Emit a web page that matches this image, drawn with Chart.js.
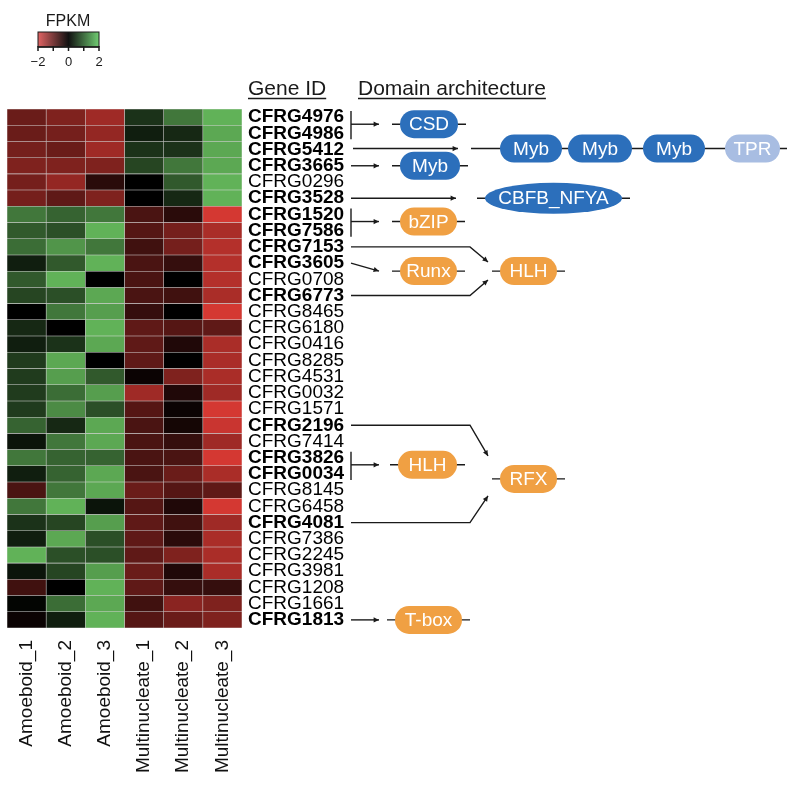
<!DOCTYPE html>
<html>
<head>
<meta charset="utf-8">
<script src="https://cdn.jsdelivr.net/npm/chart.js@4.4.0/dist/chart.umd.min.js"></script>
<style>
  html, body { margin: 0; padding: 0; background: #fff; }
</style>
</head>
<body>
<canvas id="heatmap" width="800" height="790"></canvas>
<script>
const genes = ['CFRG4976', 'CFRG4986', 'CFRG5412', 'CFRG3665', 'CFRG0296', 'CFRG3528', 'CFRG1520', 'CFRG7586',
  'CFRG7153', 'CFRG3605', 'CFRG0708', 'CFRG6773', 'CFRG8465', 'CFRG6180', 'CFRG0416', 'CFRG8285',
  'CFRG4531', 'CFRG0032', 'CFRG1571', 'CFRG2196', 'CFRG7414', 'CFRG3826', 'CFRG0034', 'CFRG8145',
  'CFRG6458', 'CFRG4081', 'CFRG7386', 'CFRG2245', 'CFRG3981', 'CFRG1208', 'CFRG1661', 'CFRG1813'];
const boldGenes = ['CFRG4976', 'CFRG4986', 'CFRG5412', 'CFRG3665', 'CFRG3528', 'CFRG1520', 'CFRG7586', 'CFRG7153',
  'CFRG3605', 'CFRG6773', 'CFRG2196', 'CFRG3826', 'CFRG0034', 'CFRG4081', 'CFRG1813'];
const samples = ['Amoeboid_1', 'Amoeboid_2', 'Amoeboid_3', 'Multinucleate_1', 'Multinucleate_2', 'Multinucleate_3'];

// z-scored FPKM, one array per sample, same order as genes
const amoeboid1 = [-1.0, -1.0, -1.1, -1.2, -1.1, -1.1, 1.2, 0.9, 1.1, 0.3, 0.9, 0.7, 0.0, 0.4, 0.3, 0.6,
  0.6, 0.6, 0.6, 1.0, 0.2, 1.2, 0.3, -0.7, 1.2, 0.5, 0.3, 1.8, 0.2, -0.6, 0.05, -0.1];
const amoeboid2 = [-1.2, -1.1, -1.0, -1.2, -1.4, -0.9, 1.0, 0.8, 1.5, 0.9, 1.8, 0.8, 1.2, 0.0, 0.5, 1.7,
  1.6, 1.1, 1.4, 0.4, 1.2, 1.0, 1.0, 1.2, 1.8, 0.7, 1.7, 0.8, 0.7, 0.0, 1.1, 0.3];
const amoeboid3 = [-1.5, -1.4, -1.5, -1.2, -0.4, -1.2, 1.2, 1.8, 1.2, 1.8, 0.0, 1.7, 1.6, 1.8, 1.7, 0.0,
  0.9, 1.6, 0.8, 1.7, 1.7, 1.0, 1.7, 1.7, 0.2, 1.6, 0.8, 0.8, 1.6, 1.8, 1.7, 1.8];
const multinucleate1 = [0.5, 0.3, 0.5, 0.7, 0.0, 0.0, -0.7, -0.8, -0.6, -0.7, -0.7, -0.7, -0.5, -0.9, -0.9, -0.9,
  -0.1, -1.5, -0.8, -0.7, -0.7, -0.7, -0.7, -1.0, -0.8, -0.9, -0.9, -0.9, -1.0, -0.9, -0.6, -0.8];
const multinucleate2 = [1.2, 0.4, 0.5, 1.2, 0.9, 0.4, -0.4, -1.1, -1.1, -0.5, 0.0, -0.6, 0.0, -0.8, -0.3, 0.0,
  -1.2, -0.3, -0.1, -0.2, -0.5, -0.7, -1.0, -0.8, -0.3, -0.6, -0.4, -1.2, -0.3, -0.5, -1.3, -1.0];
const multinucleate3 = [1.8, 1.7, 1.7, 1.7, 1.8, 1.8, -2.0, -1.6, -1.7, -1.7, -1.7, -1.6, -2.0, -0.9, -1.6, -1.6,
  -1.6, -1.5, -2.0, -1.9, -1.5, -2.0, -1.6, -0.9, -2.0, -1.5, -1.6, -1.6, -1.6, -0.5, -1.2, -1.2];
const sampleValues = [amoeboid1, amoeboid2, amoeboid3, multinucleate1, multinucleate2, multinucleate3];

const legendTicks = [-2, 0, 2];

const FONT = "'Liberation Sans', Arial, sans-serif";
const INK = '#1a1a1a';
const BLUE = '#2c6fbb';
const LIGHT_BLUE = '#a8bde2';
const ORANGE = '#f0a043';

function fpkmColor(v) {
  const t = Math.max(-2, Math.min(2, v)) / 2;
  if (t < 0) {
    const k = -t;
    return `rgb(${Math.round(212 * k)},${Math.round(56 * k)},${Math.round(50 * k)})`;
  }
  return `rgb(${Math.round(108 * t)},${Math.round(198 * t)},${Math.round(98 * t)})`;
}

function strokePath(ctx, pts) {
  ctx.beginPath();
  ctx.moveTo(pts[0][0], pts[0][1]);
  for (let i = 1; i < pts.length; i++) ctx.lineTo(pts[i][0], pts[i][1]);
  ctx.stroke();
}

function arrow(ctx, pts) {
  strokePath(ctx, pts);
  const [x1, y1] = pts[pts.length - 2];
  const [x2, y2] = pts[pts.length - 1];
  const a = Math.atan2(y2 - y1, x2 - x1);
  ctx.beginPath();
  ctx.moveTo(x2, y2);
  ctx.lineTo(x2 - 6 * Math.cos(a - 0.45), y2 - 6 * Math.sin(a - 0.45));
  ctx.lineTo(x2 - 6 * Math.cos(a + 0.45), y2 - 6 * Math.sin(a + 0.45));
  ctx.closePath();
  ctx.fill();
}

function domain(ctx, x, cy, w, fill, text, oval, h) {
  h = h || 28;
  ctx.save();
  ctx.fillStyle = fill;
  ctx.beginPath();
  if (oval) ctx.ellipse(x + w / 2, cy, w / 2, h / 2, 0, 0, Math.PI * 2);
  else ctx.roundRect(x, cy - h / 2, w, h, h / 2);
  ctx.fill();
  ctx.fillStyle = '#fff';
  ctx.font = `19px ${FONT}`;
  ctx.textAlign = 'center';
  ctx.textBaseline = 'middle';
  ctx.fillText(text, x + w / 2, cy + 1);
  ctx.restore();
}

function singleDomain(ctx, x, cy, w, fill, text, oval, h) {
  strokePath(ctx, [[x - 8, cy], [x + w + 8, cy]]);
  domain(ctx, x, cy, w, fill, text, oval, h);
}

const annotations = {
  id: 'annotations',
  afterDraw(chart) {
    const ctx = chart.ctx;
    const ys = chart.scales.y;
    const yc = i => ys.getPixelForTick(i);
    ctx.save();
    ctx.strokeStyle = INK;
    ctx.fillStyle = INK;
    ctx.lineWidth = 1.4;

    // colour key
    ctx.save();
    ctx.font = `16px ${FONT}`;
    ctx.textAlign = 'center';
    ctx.textBaseline = 'alphabetic';
    ctx.fillText('FPKM', 68, 26);
    const grad = ctx.createLinearGradient(38, 0, 99, 0);
    grad.addColorStop(0, '#e06464');
    grad.addColorStop(0.5, '#111');
    grad.addColorStop(1, '#70cc72');
    ctx.fillStyle = grad;
    ctx.fillRect(38, 32, 61, 15);
    ctx.lineWidth = 1;
    ctx.strokeRect(38, 32, 61, 15);
    ctx.lineWidth = 1.5;
    for (let k = 0; k < 5; k++) {
      const x = 38 + k * 61 / 4;
      strokePath(ctx, [[x, 46], [x, 51]]);
    }
    strokePath(ctx, [[38, 47], [99, 47]]);
    ctx.fillStyle = INK;
    ctx.font = `13px ${FONT}`;
    ctx.textBaseline = 'middle';
    legendTicks.forEach(t => {
      const x = 38 + (t + 2) / 4 * 61;
      ctx.fillText(t < 0 ? '\u2212' + Math.abs(t) : String(t), x, 62);
    });
    ctx.restore();

    // headers
    ctx.save();
    ctx.font = `21px ${FONT}`;
    ctx.textBaseline = 'alphabetic';
    ctx.textAlign = 'left';
    [['Gene ID', 248], ['Domain architecture', 358]].forEach(([t, x]) => {
      ctx.fillText(t, x, 95);
      const w = ctx.measureText(t).width;
      ctx.lineWidth = 1.3;
      strokePath(ctx, [[x, 98.5], [x + w, 98.5]]);
    });
    ctx.restore();

    const bx = 351;
    function bracket(a, b) {
      strokePath(ctx, [[bx, yc(a) - 6], [bx, yc(b) + 6]]);
      const m = (yc(a) + yc(b)) / 2 - 1;
      arrow(ctx, [[bx, m], [379, m]]);
      return m;
    }

    // CSD
    const m01 = bracket(0, 1);
    singleDomain(ctx, 400, m01, 58, BLUE, 'CSD');
    // Myb-Myb-Myb-TPR
    const y2 = yc(2) - 1;
    arrow(ctx, [[353, y2], [458, y2]]);
    strokePath(ctx, [[471, y2], [787, y2]]);
    domain(ctx, 500, y2, 62, BLUE, 'Myb');
    domain(ctx, 568, y2, 64, BLUE, 'Myb');
    domain(ctx, 643, y2, 62, BLUE, 'Myb');
    domain(ctx, 725, y2, 55, LIGHT_BLUE, 'TPR');
    // Myb
    arrow(ctx, [[bx, yc(3)], [379, yc(3)]]);
    singleDomain(ctx, 400, yc(3), 60, BLUE, 'Myb');
    // CBFB_NFYA
    arrow(ctx, [[bx, yc(5)], [456, yc(5)]]);
    singleDomain(ctx, 485, yc(5), 137, BLUE, 'CBFB_NFYA', true, 31);
    // bZIP
    const m67 = bracket(6, 7);
    singleDomain(ctx, 400, m67, 57, ORANGE, 'bZIP');
    // Runx and HLH
    const hc = yc(9) + 8;
    arrow(ctx, [[bx, yc(9)], [379, hc]]);
    singleDomain(ctx, 400, hc, 57, ORANGE, 'Runx');
    arrow(ctx, [[bx, yc(8)], [470, yc(8)], [488, hc - 9]]);
    arrow(ctx, [[bx, yc(11)], [470, yc(11)], [488, hc + 9]]);
    singleDomain(ctx, 500, hc, 57, ORANGE, 'HLH');
    // HLH
    const m2122 = bracket(21, 22);
    singleDomain(ctx, 398, m2122, 59, ORANGE, 'HLH');
    // RFX
    const rc = yc(22) + 5;
    arrow(ctx, [[bx, yc(19)], [470, yc(19)], [488, rc - 23]]);
    arrow(ctx, [[bx, yc(25)], [470, yc(25)], [488, rc + 17]]);
    singleDomain(ctx, 500, rc, 57, ORANGE, 'RFX');
    // T-box
    arrow(ctx, [[bx, yc(31)], [379, yc(31)]]);
    singleDomain(ctx, 395, yc(31), 67, ORANGE, 'T-box');

    ctx.restore();
  }
};

const datasets = samples.map((s, i) => ({
  label: s,
  data: genes.map(() => [i, i + 1]),
  backgroundColor: sampleValues[i].map(fpkmColor),
  borderColor: 'rgba(90,90,90,0.18)',
  borderWidth: 0.6,
  borderSkipped: false,
  barPercentage: 1,
  categoryPercentage: 1,
  grouped: false
}));

new Chart(document.getElementById('heatmap'), {
  type: 'bar',
  data: { labels: genes, datasets: datasets },
  options: {
    indexAxis: 'y',
    responsive: false,
    animation: false,
    layout: { padding: { left: 7, top: 109, right: 0, bottom: 0 } },
    plugins: { legend: { display: false }, tooltip: { enabled: false } },
    scales: {
      x: {
        type: 'linear',
        min: 0,
        max: samples.length,
        grid: { display: false, drawTicks: false },
        border: { display: false },
        afterBuildTicks: scale => { scale.ticks = samples.map((s, i) => ({ value: i + 0.5 })); },
        afterFit: scale => { scale.height = 162; },
        ticks: {
          autoSkip: false,
          minRotation: 90,
          maxRotation: 90,
          padding: 12,
          color: '#111',
          font: { family: FONT, size: 19 },
          callback: (v, i) => samples[i]
        }
      },
      y: {
        type: 'category',
        position: 'right',
        grid: { display: false, drawTicks: false },
        border: { display: false },
        afterFit: scale => { scale.width = 558; },
        ticks: {
          autoSkip: false,
          padding: 6,
          color: '#000',
          font: ctx => ({
            family: FONT,
            size: 19,
            weight: boldGenes.includes(genes[ctx.index]) ? 'bold' : 'normal'
          })
        }
      }
    }
  },
  plugins: [annotations]
});
</script>
</body>
</html>
